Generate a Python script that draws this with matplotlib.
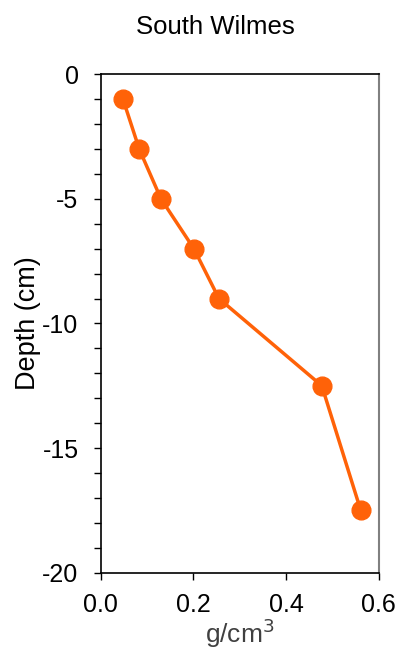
import matplotlib
matplotlib.use("Agg")
import matplotlib.pyplot as plt
from matplotlib.ticker import MultipleLocator

plt.rcParams['font.family'] = ['Liberation Sans', 'DejaVu Sans']

title = "South Wilmes"
density = [0.048, 0.083, 0.130, 0.201, 0.255, 0.477, 0.561]
depth = [-1, -3, -5, -7, -9, -12.5, -17.5]
x_ticks = [0.0, 0.2, 0.4, 0.6]
y_ticks = [0, -5, -10, -15, -20]

fig = plt.figure(figsize=(4.03, 6.5), dpi=100)
ax = fig.add_axes([0.25, 0.119, 0.69, 0.7667])

ax.plot(density, depth, color='#FF6208', lw=2.5, marker='o', ms=13.5,
        markerfacecolor='#FF6208', markeredgecolor='#FF6208', zorder=3)

ax.set_xlim(0, 0.6)
ax.set_ylim(-20, 0)
ax.set_xticks(x_ticks)
ax.set_xticklabels([f"{v:.1f}" for v in x_ticks])
ax.set_yticks(y_ticks)
ax.set_yticklabels([str(v) for v in y_ticks])
ax.yaxis.set_minor_locator(MultipleLocator(1))

ax.tick_params(axis='both', which='major', direction='out', length=5,
               width=1, labelsize=18, colors='black')
ax.tick_params(axis='y', which='minor', direction='out', length=5, width=1)
ax.tick_params(axis='x', pad=10)
ax.tick_params(axis='y', pad=11)

for side in ['left', 'bottom', 'top']:
    ax.spines[side].set_color('black')
    ax.spines[side].set_linewidth(1.2)
ax.spines['right'].set_color('#808080')
ax.spines['right'].set_linewidth(1.5)

ax.set_ylabel("Depth (cm)", fontsize=19.5, labelpad=1)
ax.set_xlabel("g/cm$^3$", fontsize=19, color='#404040', labelpad=-1)
fig.suptitle(title, fontsize=18.5, x=0.535, y=0.958, va='center')

fig.savefig("out.png", dpi=100)
